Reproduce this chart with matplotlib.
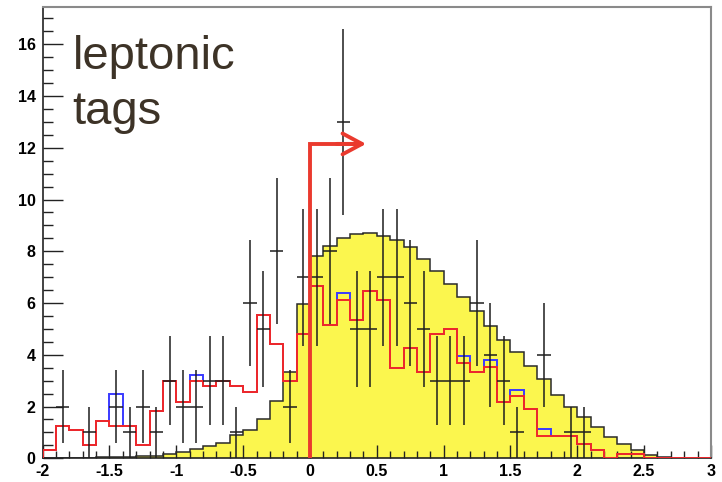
import numpy as np
import matplotlib
matplotlib.use('Agg')
import matplotlib.pyplot as plt
from matplotlib.ticker import MultipleLocator, FixedLocator

# ---------------- data ----------------
x_lo, x_hi, n_bins = -2.0, 3.0, 50

data_counts = [0, 2, 0, 1, 0, 2, 1, 2, 1, 3,
               2, 2, 3, 3, 1, 6, 5, 8, 2, 7,
               7, 8, 13, 5, 5, 7, 7, 6, 5, 3,
               3, 3, 6, 4, 3, 1, 0, 4, 0, 1,
               1, 0, 0, 0, 0, 0, 0, 0, 0, 0]

mc_yellow = [0.02, 0.02, 0.03, 0.03, 0.04, 0.05, 0.06, 0.08, 0.10, 0.17,
             0.24, 0.35, 0.46, 0.60, 0.90, 1.10, 1.52, 2.20, 3.35, 5.95,
             7.82, 8.20, 8.50, 8.68, 8.70, 8.60, 8.45, 8.17, 7.70, 7.22,
             6.75, 6.22, 5.68, 5.10, 4.58, 4.09, 3.55, 3.06, 2.45, 1.98,
             1.59, 1.20, 0.84, 0.55, 0.32, 0.13, 0.04, 0.02, 0.00, 0.00]

red_hist = [0.33, 1.25, 1.10, 0.52, 1.46, 1.25, 1.25, 0.52, 1.82, 2.97,
            2.18, 2.97, 2.79, 2.97, 2.80, 2.58, 5.55, 4.43, 2.97, 4.82,
            6.67, 5.17, 6.13, 5.36, 6.48, 6.10, 3.50, 4.25, 3.33, 4.80,
            4.98, 3.69, 3.32, 3.53, 2.18, 2.41, 1.90, 0.88, 0.88, 0.88,
            0.55, 0.33, 0.00, 0.17, 0.17, 0.00, 0.00, 0.00, 0.00, 0.00]

blue_hist = [0.33, 1.25, 1.10, 0.52, 1.46, 2.47, 1.25, 0.52, 1.82, 2.97,
             2.18, 3.22, 2.79, 2.97, 2.80, 2.58, 5.55, 4.43, 2.97, 4.82,
             6.67, 5.17, 6.39, 5.36, 6.48, 6.10, 3.50, 4.25, 3.33, 4.80,
             4.98, 3.95, 3.32, 3.80, 2.18, 2.64, 1.90, 1.15, 0.88, 0.88,
             0.55, 0.33, 0.00, 0.17, 0.17, 0.00, 0.00, 0.00, 0.00, 0.00]

cut_value = 0.0
arrow_height = 12.15
arrow_end = 0.42

label_lines = ["leptonic", "tags"]

x_ticks = [-2, -1.5, -1, -0.5, 0, 0.5, 1, 1.5, 2, 2.5, 3]
x_tick_labels = ["-2", "-1.5", "-1", "-0.5", "0", "0.5", "1", "1.5", "2", "2.5", "3"]
y_ticks = [0, 2, 4, 6, 8, 10, 12, 14, 16]
y_tick_labels = ["0", "2", "4", "6", "8", "10", "12", "14", "16"]

# ---------------- plot ----------------
plt.rcParams['font.family'] = ['Liberation Sans', 'DejaVu Sans']
plt.rcParams['axes.unicode_minus'] = False

fig = plt.figure(figsize=(7.22, 4.82), dpi=100)
ax = fig.add_axes([0.0591, 0.0492, 0.9256, 0.9357])

edges = np.linspace(x_lo, x_hi, n_bins + 1)
centers = 0.5 * (edges[:-1] + edges[1:])
half_w = 0.5 * (x_hi - x_lo) / n_bins

yel = np.array(mc_yellow)
ax.stairs(yel, edges, fill=True, color='#fbf64e', zorder=1)
ax.stairs(yel, edges, color='#2a2a2a', lw=1.1, zorder=2)

ax.stairs(np.array(blue_hist), edges, color='#3a3aff', lw=1.4, zorder=3)
ax.stairs(np.array(red_hist), edges, color='#f02828', lw=1.4, zorder=4)

cnt = np.array(data_counts, dtype=float)
m = cnt > 0
ax.errorbar(centers[m], cnt[m], xerr=half_w, yerr=np.sqrt(cnt[m]), fmt='none',
            ecolor='#1e1e1e', elinewidth=1.1, capsize=0, zorder=5)

# cut arrow
arrow_col = '#ea3a2e'
ax.plot([cut_value, cut_value, arrow_end - 0.05], [0, arrow_height, arrow_height],
        color=arrow_col, lw=2.8, solid_joinstyle='miter', solid_capstyle='butt', zorder=6)
ax.annotate('', xy=(arrow_end, arrow_height), xytext=(cut_value + 0.2, arrow_height),
            arrowprops=dict(arrowstyle='->,head_length=1.4,head_width=0.75',
                            color=arrow_col, lw=2.8, shrinkA=0, shrinkB=0,
                            mutation_scale=10), zorder=6)

# label
txt_col = '#3d3327'
ax.text(-1.775, 15.05, label_lines[0], fontsize=34, color=txt_col, va='baseline', ha='left')
ax.text(-1.775, 12.9, label_lines[1], fontsize=34, color=txt_col, va='baseline', ha='left')

ax.set_xlim(x_lo, x_hi)
ax.set_ylim(0, 17.43)

ax.xaxis.set_major_locator(FixedLocator(x_ticks))
ax.set_xticklabels(x_tick_labels)
ax.xaxis.set_minor_locator(MultipleLocator(0.1))
ax.yaxis.set_major_locator(FixedLocator(y_ticks))
ax.set_yticklabels(y_tick_labels)
ax.yaxis.set_minor_locator(MultipleLocator(0.5))

ax.tick_params(axis='x', which='major', direction='in', length=9.7, width=1.0,
               pad=4, labelsize=11.5, color='#222222')
ax.tick_params(axis='x', which='minor', direction='in', length=4.9, width=1.0, color='#222222')
ax.tick_params(axis='y', which='major', direction='in', length=14.4, width=1.0,
               pad=5, labelsize=11.5, color='#222222')
ax.tick_params(axis='y', which='minor', direction='in', length=7.2, width=1.0, color='#222222')
for lab in ax.get_xticklabels() + ax.get_yticklabels():
    lab.set_fontweight('bold')

for s in ['left', 'bottom']:
    ax.spines[s].set_color('#222222')
    ax.spines[s].set_linewidth(1.2)
for s in ['top', 'right']:
    ax.spines[s].set_color('#8a8a8a')
    ax.spines[s].set_linewidth(1.5)

fig.savefig('out.png', dpi=100)
